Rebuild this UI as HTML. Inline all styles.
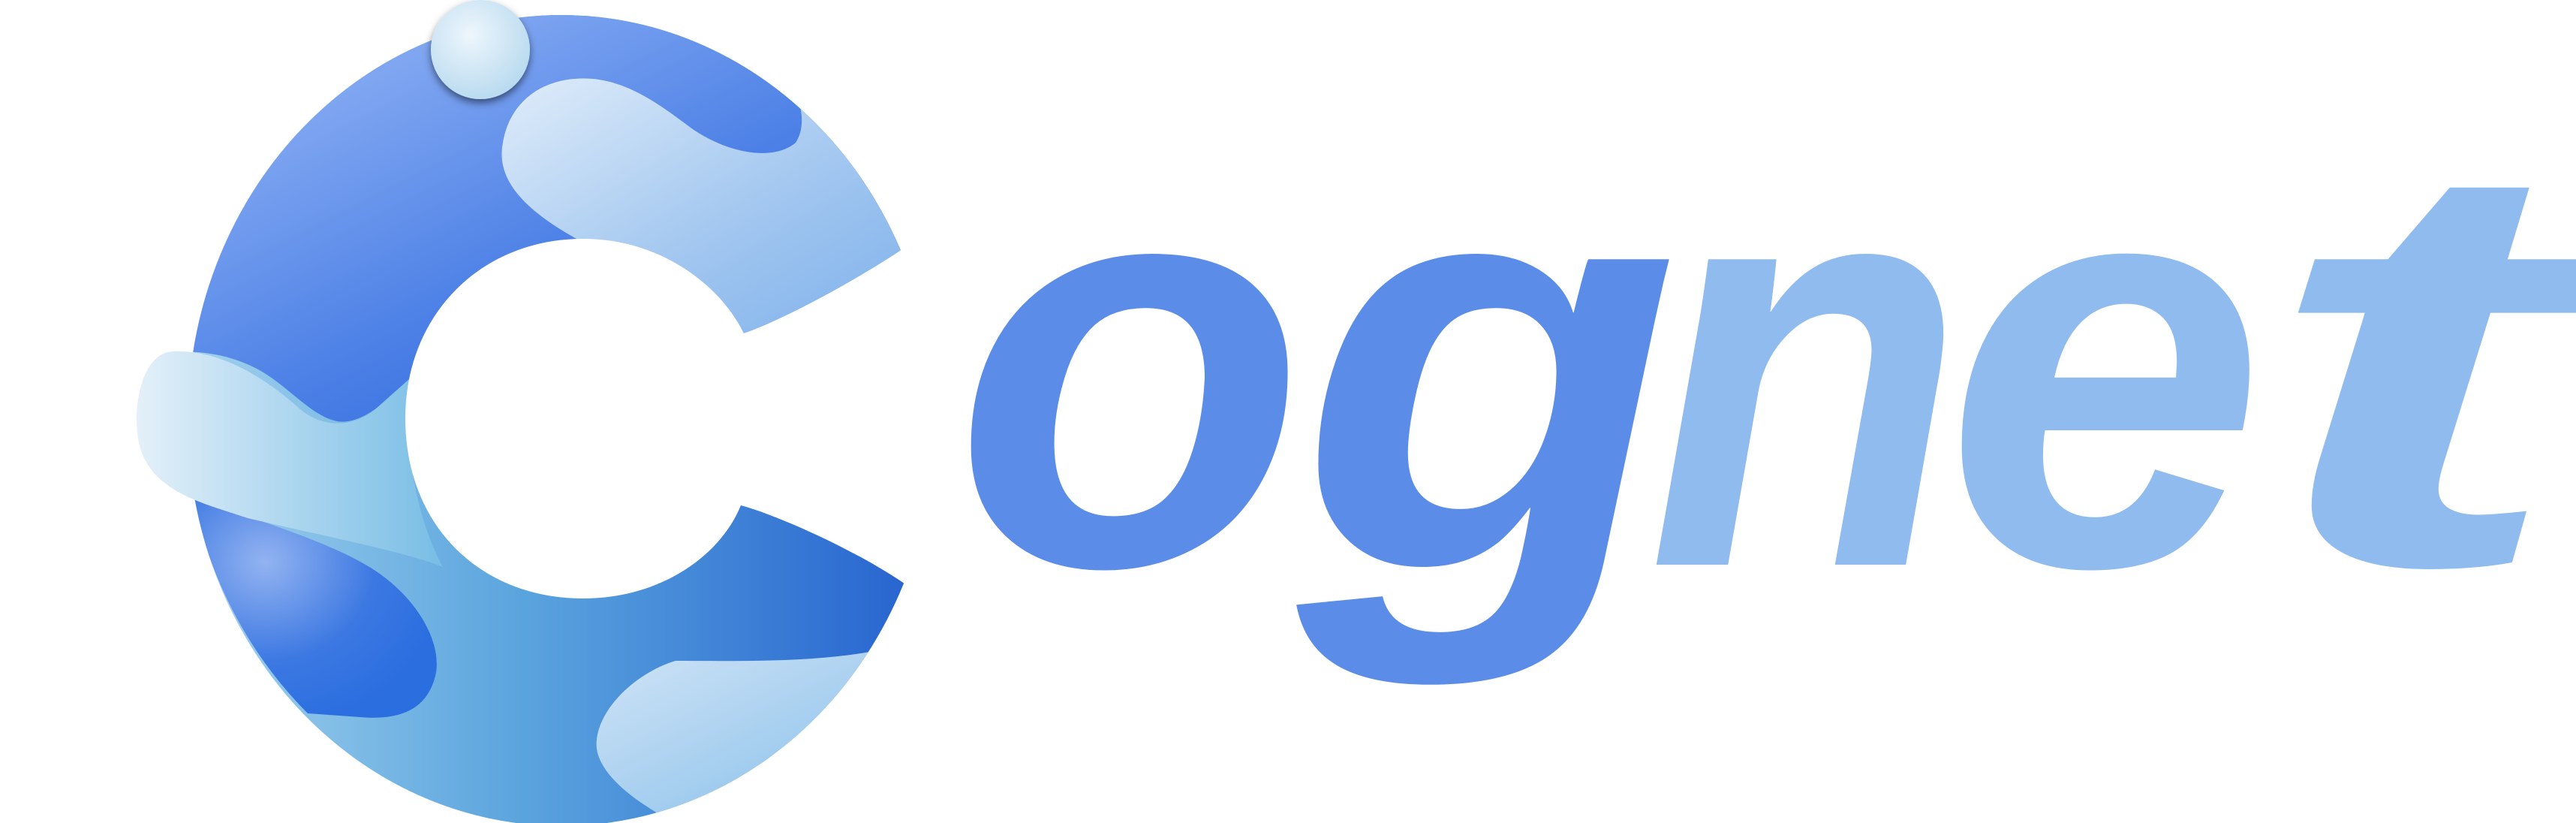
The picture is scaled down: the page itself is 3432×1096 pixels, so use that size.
<!DOCTYPE html>
<html><head><meta charset="utf-8"><style>
html,body{margin:0;padding:0;background:#fff;width:3432px;height:1096px;overflow:hidden}
svg{display:block}
</style></head><body>
<svg width="3432" height="1096" viewBox="0 0 3432 1096" xmlns="http://www.w3.org/2000/svg">
<defs>
<linearGradient id="gTop" x1="0" y1="0" x2="1" y2="1">
<stop offset="0" stop-color="#a3c0f8"/><stop offset="0.55" stop-color="#4c80e6"/><stop offset="1" stop-color="#1557d8"/></linearGradient>
<linearGradient id="gBot" x1="0" y1="0" x2="1" y2="0">
<stop offset="0" stop-color="#a9d6ef"/><stop offset="0.45" stop-color="#5aa4de"/><stop offset="1" stop-color="#1f5acd"/></linearGradient>
<linearGradient id="gLight" x1="0" y1="0" x2="1" y2="1">
<stop offset="0" stop-color="#e2eefa"/><stop offset="0.5" stop-color="#a4c8f0"/><stop offset="1" stop-color="#74aaea"/></linearGradient>
<linearGradient id="gLeft" x1="0" y1="0" x2="1" y2="0">
<stop offset="0" stop-color="#e4f0f9"/><stop offset="1" stop-color="#78bde5"/></linearGradient>
<linearGradient id="gBR" x1="0" y1="0" x2="1" y2="1">
<stop offset="0" stop-color="#d4e6f7"/><stop offset="1" stop-color="#7ab8e8"/></linearGradient>
<radialGradient id="gDark" cx="0.3" cy="0.3" r="0.75">
<stop offset="0" stop-color="#93b3f1"/><stop offset="0.6" stop-color="#3c78e2"/><stop offset="1" stop-color="#2b6ee0"/></radialGradient>
<radialGradient id="gBub" cx="0.4" cy="0.35" r="0.7">
<stop offset="0" stop-color="#eef6fc"/><stop offset="1" stop-color="#b6d9ef"/></radialGradient>
<filter id="sh" x="-50%" y="-50%" width="200%" height="200%"><feDropShadow dx="0" dy="5" stdDeviation="5" flood-color="#000" flood-opacity="0.5"/></filter>
<clipPath id="circ"><ellipse cx="748" cy="560" rx="498" ry="540"/></clipPath>
</defs>
<g>
<g clip-path="url(#circ)">
<rect x="200" y="0" width="1100" height="1096" fill="url(#gBot)"/>
<path d="M200,0 H1300 V560 L545,560 L545,505 C520,530 480,570 445,560 C410,550 380,510 340,490 C300,470 260,465 200,470 Z" fill="url(#gTop)"/>
<path d="M768,318 C700,280 660,240 670,190 C680,130 730,100 790,105 C840,110 880,140 920,170 C970,205 1030,215 1060,190 C1080,160 1060,110 1036,88 L1300,88 L1300,470 L980,470 Z" fill="url(#gLight)"/>
<path d="M255,660 C330,690 440,720 500,760 C560,800 590,860 580,900 C570,940 540,960 480,955 L410,950 C330,870 280,770 255,660 Z" fill="url(#gDark)"/>
<path d="M900,880 C1000,880 1150,885 1240,845 L1300,845 V1096 H900 C830,1060 790,1020 795,985 C800,940 850,895 900,880 Z" fill="url(#gBR)"/>
</g>
<path d="M230,468 C290,465 350,500 400,545 C430,570 470,570 500,545 L545,505 C538,600 555,690 590,755 C540,735 450,718 330,690 C270,670 200,655 185,590 C175,540 190,470 230,468 Z" fill="url(#gLeft)"/>
<path d="M777,318 C640,318 540,420 540,557 C540,700 640,797 777,797 C880,797 960,740 987,673 C1050,690 1200,760 1250,814 L1300,814 L1300,300 L1245,300 C1200,340 1060,420 991,444 C960,380 880,318 777,318 Z" fill="#fff"/>
</g>
<circle cx="640" cy="66" r="66" fill="url(#gBub)" filter="url(#sh)"/>
<g font-family="'Liberation Sans', sans-serif" font-weight="bold" font-style="italic" font-size="770">
<text x="1270" y="752" fill="#5b8de8">o</text>
<text transform="translate(1730,752) scale(1.08,1)" x="0" y="0" fill="#5b8de8">g</text>
<text transform="translate(2195,752) scale(0.9,1)" x="0" y="0" fill="#8fbbee">n</text>
<text x="2590" y="752" fill="#8fbbee">e</text>
<text transform="translate(3010,752) scale(1.6,1)" x="0" y="0" fill="#8fbbee">t</text>
</g>
</svg>
</body></html>
